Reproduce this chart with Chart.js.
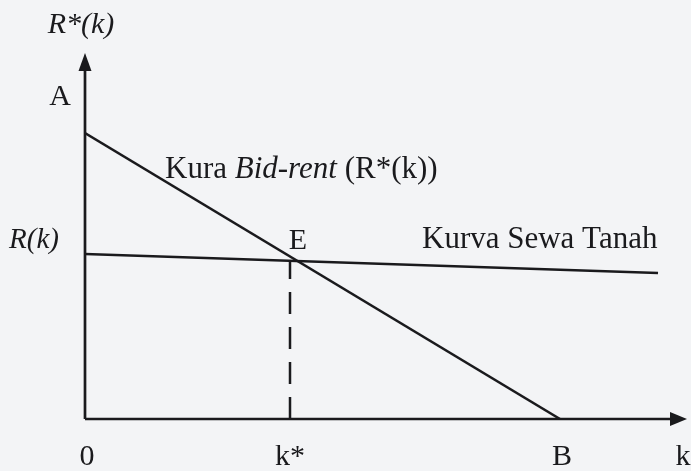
<!DOCTYPE html>
<html lang="id">
<head>
<meta charset="UTF-8">
<title>Kurva Bid-rent</title>
<script src="https://cdn.jsdelivr.net/npm/chart.js"></script>
<style>
  html, body { margin: 0; padding: 0; background: #f3f4f6; }
  .wrap { width: 691px; height: 471px; position: relative; }
</style>
</head>
<body>
<div class="wrap"><canvas id="chart"></canvas></div>
<script>
  // line endpoints (x = distance k, y = rent)
  const bidRentX = [0, 475];
  const bidRentY = [286, 0];
  const landRentX = [0, 573];
  const landRentY = [165, 146];
  const kStarX = [205, 205];
  const kStarY = [0, 159];
  const axisMaxX = 602;
  const axisMaxY = 366;

  // axis labels along the bottom
  const xTickLabels = ['0', 'k*', 'B', 'k'];
  const xTickPos = [2, 205, 477, 598];

  const ink = '#1a1a1d';
  const serif = '"Liberation Serif", "Times New Roman", serif';

  const toPoints = (xs, ys) => xs.map((x, i) => ({ x: x, y: ys[i] }));

  // axes with arrow heads plus all text labels
  const diagramPlugin = {
    id: 'diagram',
    afterDatasetsDraw(chart) {
      const { ctx, scales: { x, y } } = chart;
      const px = v => x.getPixelForValue(v);
      const py = v => y.getPixelForValue(v);
      const ox = px(0), oy = py(0);

      ctx.save();
      ctx.strokeStyle = ink;
      ctx.fillStyle = ink;
      ctx.lineWidth = 2.7;

      // y axis
      ctx.beginPath();
      ctx.moveTo(ox, oy);
      ctx.lineTo(ox, py(axisMaxY) + 10);
      ctx.stroke();
      ctx.beginPath();
      ctx.moveTo(ox, py(axisMaxY));
      ctx.lineTo(ox - 6.5, py(axisMaxY) + 18);
      ctx.lineTo(ox + 6.5, py(axisMaxY) + 18);
      ctx.closePath();
      ctx.fill();

      // x axis
      ctx.beginPath();
      ctx.moveTo(ox, oy);
      ctx.lineTo(px(axisMaxX) - 10, oy);
      ctx.stroke();
      ctx.beginPath();
      ctx.moveTo(px(axisMaxX), oy);
      ctx.lineTo(px(axisMaxX) - 17, oy - 7);
      ctx.lineTo(px(axisMaxX) - 17, oy + 7);
      ctx.closePath();
      ctx.fill();

      ctx.textBaseline = 'middle';
      ctx.textAlign = 'center';

      ctx.font = 'italic 30px ' + serif;
      ctx.fillText('R*(k)', px(-4), py(394));
      ctx.font = 'italic 29px ' + serif;
      ctx.fillText('R(k)', px(-51), py(179));

      ctx.font = '30px ' + serif;
      ctx.fillText('A', px(-25), py(322));
      ctx.fillText('E', px(213), py(178));
      xTickLabels.forEach((t, i) => ctx.fillText(t, px(xTickPos[i]), py(-38)));

      ctx.font = '31px ' + serif;
      ctx.textAlign = 'left';
      ctx.fillText('Kurva Sewa Tanah', px(337), py(179));

      // mixed roman / italic label
      let lx = px(80);
      const ly = py(249);
      const parts = [['Kura ', false], ['Bid-rent', true], [' (R*(k))', false]];
      parts.forEach(([t, it]) => {
        ctx.font = (it ? 'italic ' : '') + '31px ' + serif;
        ctx.fillText(t, lx, ly);
        lx += ctx.measureText(t).width;
      });
      ctx.restore();
    }
  };

  new Chart(document.getElementById('chart'), {
    type: 'scatter',
    data: {
      datasets: [
        { data: toPoints(bidRentX, bidRentY), showLine: true, borderColor: ink, borderWidth: 2.5, pointRadius: 0 },
        { data: toPoints(landRentX, landRentY), showLine: true, borderColor: ink, borderWidth: 2.7, pointRadius: 0 },
        { data: toPoints(kStarX, kStarY), showLine: true, borderColor: ink, borderWidth: 2.5, borderDash: [22, 13], pointRadius: 0 }
      ]
    },
    options: {
      responsive: true,
      maintainAspectRatio: false,
      animation: false,
      layout: { padding: { left: 85, right: 4, top: 53, bottom: 52 } },
      plugins: { legend: { display: false }, tooltip: { enabled: false } },
      scales: {
        x: { type: 'linear', min: 0, max: axisMaxX, display: false },
        y: { type: 'linear', min: 0, max: axisMaxY, display: false }
      }
    },
    plugins: [diagramPlugin]
  });
</script>
</body>
</html>
